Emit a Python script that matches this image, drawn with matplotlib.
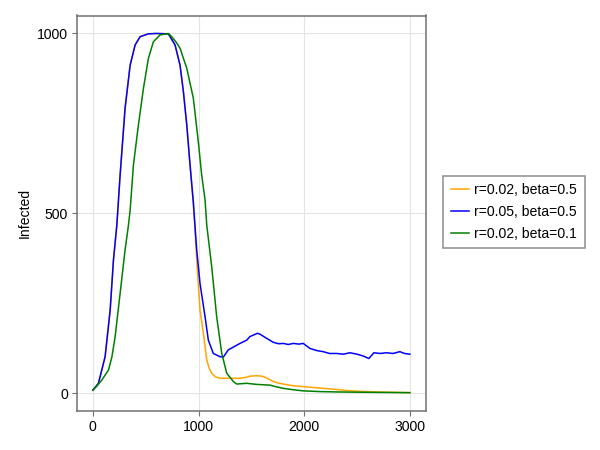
import matplotlib
matplotlib.use("Agg")
import matplotlib.pyplot as plt

# ---- data ----
x_orange = [0, 53, 116, 164, 195, 227, 258, 305, 353, 400, 447, 526, 600, 715, 778, 825, 857, 889, 920, 951,
            983, 1014, 1046, 1078, 1100, 1125, 1160, 1204, 1300, 1393, 1456, 1487, 1551, 1600, 1629, 1670,
            1708, 1750, 1802, 1900, 1991, 2100, 2180, 2300, 2401, 2500, 2685, 2850, 3000]
y_orange = [8, 27, 101, 231, 370, 467, 606, 792, 912, 968, 991, 999, 1000, 999, 968, 912, 838, 745, 634, 530,
            370, 231, 166, 92, 70, 55, 45, 41, 41, 41, 44, 47, 48, 47, 44, 38,
            32, 28, 25, 20, 18, 15, 13, 10, 7, 5, 3, 2, 1]

x_blue = [0, 53, 116, 164, 195, 227, 258, 305, 353, 400, 447, 526, 600, 715, 778, 825, 857, 889, 920, 951,
          983, 1014, 1062, 1093, 1140, 1204, 1235, 1282, 1393, 1456, 1487, 1557, 1580, 1645, 1708, 1760,
          1802, 1850, 1897, 1950, 1991, 2054, 2120, 2180, 2240, 2307, 2370, 2433, 2500, 2558, 2612, 2660,
          2720, 2779, 2840, 2905, 2950, 3000]
y_blue = [8, 27, 101, 231, 370, 467, 606, 792, 912, 968, 991, 999, 1000, 999, 968, 912, 838, 745, 634, 530,
          398, 305, 212, 147, 110, 101, 100, 120, 138, 147, 157, 166, 164, 152, 141, 137,
          138, 135, 138, 136, 138, 124, 118, 115, 110, 110, 108, 112, 108, 103, 96, 112,
          110, 112, 110, 115, 110, 108]

x_green = [0, 40, 85, 148, 180, 211, 258, 305, 337, 353, 384, 431, 479, 526, 573, 636, 700, 715, 747, 790,
           825, 889, 951, 998, 1030, 1062, 1078, 1125, 1172, 1220, 1267, 1330, 1361, 1456, 1550, 1676,
           1740, 1802, 1900, 1991, 2150, 2307, 2600, 3000]
y_green = [8, 20, 36, 64, 100, 157, 277, 398, 467, 509, 634, 745, 848, 931, 977, 996, 999, 1000, 991, 975,
           959, 903, 820, 699, 606, 537, 467, 351, 212, 110, 55, 32, 25, 27, 24, 22,
           17, 13, 9, 6, 4, 3, 2, 1]

labels = ["r=0.02, beta=0.5", "r=0.05, beta=0.5", "r=0.02, beta=0.1"]
colors = ["orange", "blue", "green"]
x_ticks = [0, 1000, 2000, 3000]
y_ticks = [0, 500, 1000]

plt.rcParams['font.family'] = ['Liberation Sans', 'DejaVu Sans']
FS = 10.08
spine_col = "#707070"

fig = plt.figure(figsize=(6, 4.5), dpi=100)
ax = fig.add_axes([77/600, 1 - 411/450, (425.7 - 77)/600, (411 - 15.5)/450])

lw = 1.1
ax.plot(x_orange, y_orange, color=colors[0], lw=lw, label=labels[0])
ax.plot(x_blue, y_blue, color=colors[1], lw=lw, label=labels[1])
ax.plot(x_green, y_green, color=colors[2], lw=lw, label=labels[2])

ax.set_xlim(-150, 3150)
ax.set_ylim(-50, 1050)
ax.set_xticks(x_ticks)
ax.set_yticks(y_ticks)
for s in ax.spines.values():
    s.set_color(spine_col)
    s.set_linewidth(1.1)
ax.tick_params(direction='out', length=3.6, width=0.8, color=spine_col,
               labelsize=FS, pad=3, labelcolor='black')
ax.set_axisbelow(True)
ax.grid(True, color='#e4e4e4', linewidth=0.8)
ax.set_ylabel("Infected", fontsize=FS, labelpad=4)

h, l = ax.get_legend_handles_labels()
leg = fig.legend(h, l, loc='center left', bbox_to_anchor=(443.3/600, 1 - 212/450),
                 bbox_transform=fig.transFigure, fontsize=FS, frameon=True, fancybox=False,
                 handlelength=1.25, handletextpad=0.4, borderpad=0.55, labelspacing=0.55,
                 borderaxespad=0)
leg.get_frame().set_edgecolor(spine_col)
leg.get_frame().set_linewidth(1.1)

fig.savefig("out.png", dpi=100)
